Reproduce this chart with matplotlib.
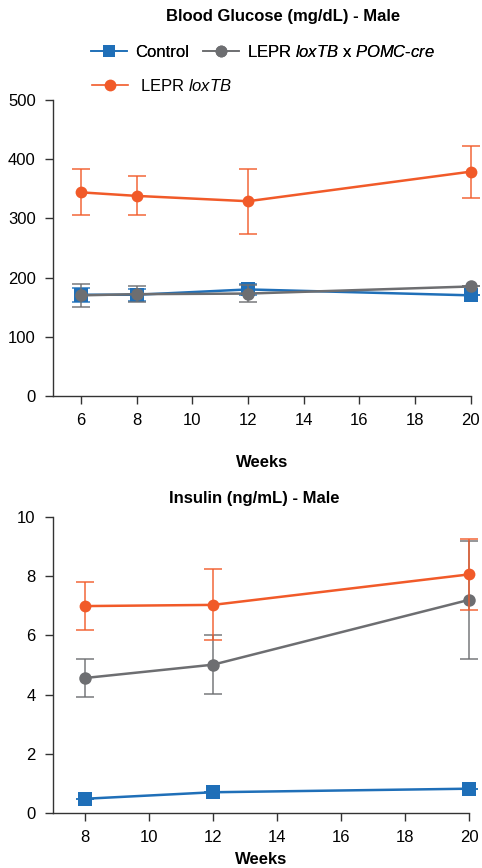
import matplotlib
matplotlib.use("Agg")
import matplotlib.pyplot as plt
from matplotlib.lines import Line2D
from matplotlib.colors import to_rgba

plt.rcParams['font.family'] = ['Liberation Sans', 'DejaVu Sans']
plt.rcParams['mathtext.fontset'] = 'custom'
plt.rcParams['mathtext.rm'] = 'Liberation Sans'
plt.rcParams['mathtext.it'] = 'Liberation Sans:italic'

# ---- data ----
weeks_glu = [6, 8, 12, 20]
glu_control = [171, 171, 180, 170]
glu_control_err = [12, 10, 10, 0]
glu_cre = [170, 172, 173, 185]
glu_cre_err = [20, 14, 15, 0]
glu_lox = [344, 338, 329, 379]
glu_lox_err = [39, 33, 55, 44]

weeks_ins = [8, 12, 20]
ins_control = [0.48, 0.70, 0.82]
ins_control_err = [0.0, 0.0, 0.0]
ins_cre = [4.56, 5.01, 7.20]
ins_cre_err = [0.65, 1.0, 2.0]
ins_lox = [6.99, 7.03, 8.06]
ins_lox_err = [0.8, 1.2, 1.19]

labels = ["Control", r"LEPR $\mathit{loxTB}$", r"LEPR $\mathit{loxTB}$ x $\mathit{POMC}$-$\mathit{cre}$"]

BLUE = "#1f6fb8"
GRAY = "#6d6e71"
ORANGE = "#f15a29"
SPINE = "#333333"
FS = 12

fig = plt.figure(figsize=(4.82, 8.68), dpi=100)
ax1 = fig.add_axes([0.110, 0.5438, 0.867, 0.3410])
ax2 = fig.add_axes([0.110, 0.0634, 0.863, 0.3410])


def draw(ax, x, series):
    for y, e, c, m, ms, z in series:
        ax.errorbar(x, y, yerr=e, fmt='none', ecolor=to_rgba(c, 0.85),
                    elinewidth=1.2, capsize=6.5, capthick=1.2, zorder=z,
                    clip_on=False)
        ax.plot(x, y, color=c, marker=m, markersize=ms, lw=1.8,
                markeredgewidth=0, zorder=z + 0.5, clip_on=False)


draw(ax1, weeks_glu, [
    (glu_control, glu_control_err, BLUE, 's', 10, 2),
    (glu_cre, glu_cre_err, GRAY, 'o', 9, 3),
    (glu_lox, glu_lox_err, ORANGE, 'o', 8.5, 4),
])
draw(ax2, weeks_ins, [
    (ins_control, ins_control_err, BLUE, 's', 10, 2),
    (ins_cre, ins_cre_err, GRAY, 'o', 9, 3),
    (ins_lox, ins_lox_err, ORANGE, 'o', 8.5, 4),
])

ax1.set_xlim(5, 20)
ax1.set_ylim(0, 500)
ax1.set_xticks([6, 8, 10, 12, 14, 16, 18, 20])
ax1.set_yticks([0, 100, 200, 300, 400, 500])
ax2.set_xlim(7, 20)
ax2.set_ylim(0, 10)
ax2.set_xticks([8, 10, 12, 14, 16, 18, 20])
ax2.set_yticks([0, 2, 4, 6, 8, 10])

for ax in (ax1, ax2):
    for s in ('top', 'right'):
        ax.spines[s].set_visible(False)
    for s in ('left', 'bottom'):
        ax.spines[s].set_color(SPINE)
        ax.spines[s].set_linewidth(1.0)
    ax.tick_params(direction='out', length=6, width=1.0, color=SPINE,
                   labelsize=FS, pad=6.5)
    ax.set_xlabel("Weeks", fontsize=FS, fontweight='bold')

ax1.xaxis.labelpad = 19.5
ax2.xaxis.labelpad = 5

fig.text(283 / 482, 1 - 17 / 868, "Blood Glucose (mg/dL) - Male", ha='center',
         va='center', fontsize=FS, fontweight='bold')
fig.text(254 / 482, 1 - 498 / 868, "Insulin (ng/mL) - Male", ha='center',
         va='center', fontsize=FS, fontweight='bold')

h_ctrl = Line2D([], [], color=BLUE, marker='s', markersize=9, lw=1.2, markeredgewidth=0)
h_lox = Line2D([], [], color=ORANGE, marker='o', markersize=8.5, lw=1.2, markeredgewidth=0)
h_cre = Line2D([], [], color=GRAY, marker='o', markersize=8.5, lw=1.2, markeredgewidth=0)

leg1 = fig.legend([h_ctrl, h_cre], [labels[0], labels[2]], ncol=2, loc='center left',
                  bbox_to_anchor=(91 / 482, 1 - 52 / 868), frameon=False,
                  fontsize=FS, handlelength=2.15, columnspacing=0.85,
                  handletextpad=0.5, borderpad=0, borderaxespad=0)
fig.add_artist(leg1)
leg2 = fig.legend([h_lox], [labels[1]], loc='center left',
                  bbox_to_anchor=(92 / 482, 1 - 86 / 868), frameon=False,
                  fontsize=FS, handlelength=2.15, handletextpad=0.7,
                  borderpad=0, borderaxespad=0)

fig.savefig("out.png", dpi=100)
